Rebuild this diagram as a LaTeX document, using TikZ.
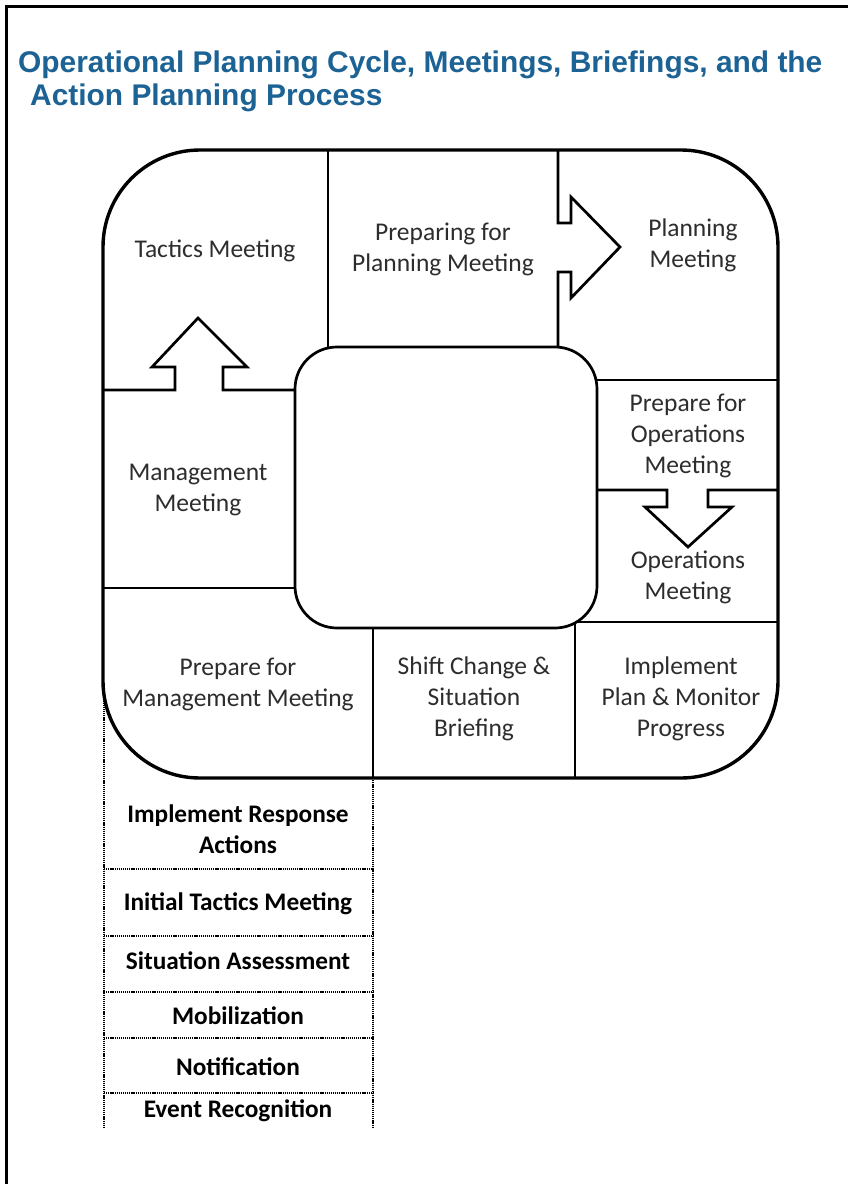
\documentclass[tikz,border=0pt]{standalone}
\usepackage{fontspec}
\setmainfont{Carlito}
\newfontfamily\titlefont{Liberation Sans}
\definecolor{titleblue}{RGB}{28,98,148}
\definecolor{txtgray}{RGB}{45,45,45}
\begin{document}
\begin{tikzpicture}[x=1pt,y=-1pt,
  frameline/.style={line width=3pt},
  outerline/.style={line width=3.4pt},
  divline/.style={line width=2.7pt, line join=miter},
  dotline/.style={line width=2pt, dash pattern=on 1.2pt off 0.9pt},
  cyc/.style={align=center, inner sep=0pt, text=txtgray, font=\fontsize{25.5}{31}\selectfont},
  stk/.style={align=center, inner sep=0pt, text=black, font=\bfseries\fontsize{25.3}{31}\selectfont},
  ttl/.style={anchor=base west, inner sep=0pt, text=titleblue, font=\titlefont\bfseries\fontsize{29.9}{33}\selectfont}]
\useasboundingbox (0,0) rectangle (848,1184);
\fill[white] (0,0) rectangle (848,1184);
% page frame
\draw[frameline] (6,1184) -- (6,6) -- (848,6);
% title
\node[ttl] (t1) at (18,72) {Operational Planning Cycle, Meetings, Briefings, and the};
\node[ttl] (t2) at (30,105) {Action Planning Process};
% dotted stack
\draw[dotline] (104,690) -- (104,1128);
\draw[dotline] (373,778) -- (373,1128);
\foreach \yy in {869,936,992,1038,1093} \draw[dotline] (104,\yy) -- (373,\yy);
% outer rounded shape
\draw[outerline, fill=white, rounded corners=97pt] (103,150) rectangle (778,778);
% dividers
\draw[divline] (328,150) -- (328,350);
\draw[divline] (103,390) -- (175,390) -- (175,367) -- (152,367) -- (198,318) -- (247,367) -- (223,367) -- (223,390) -- (297,390);
\draw[divline] (558,150) -- (558,223) -- (571,223) -- (571,197) -- (620,247) -- (571,298) -- (571,272) -- (558,272) -- (558,350);
\draw[divline] (103,588) -- (297,588);
\draw[divline] (595,380) -- (778,380);
\draw[divline] (595,490) -- (667,490) -- (667,507) -- (645,507) -- (688,547) -- (732,507) -- (708,507) -- (708,490) -- (778,490);
\draw[divline] (575,622) -- (778,622);
\draw[divline] (373,626) -- (373,778);
\draw[divline] (575,620) -- (575,778);
% inner rounded shape
\draw[divline, fill=white, rounded corners=42pt] (295,347) rectangle (597,628);
% cycle texts
\node[cyc] (tac) at (215,251) {Tactics Meeting};
\node[cyc] (ppm) at (443,249) {Preparing for\\Planning Meeting};
\node[cyc] (pm) at (693,245) {Planning\\Meeting};
\node[cyc] (mm) at (198,490) {Management\\Meeting};
\node[cyc] (pom) at (688,436) {Prepare for\\Operations\\Meeting};
\node[cyc] (om) at (688,577) {Operations\\Meeting};
\node[cyc] (pmm) at (238,684) {Prepare for\\Management Meeting};
\node[cyc] (scb) at (474,699) {Shift Change \&\\Situation\\Briefing};
\node[cyc] (ipm) at (681,699) {Implement\\Plan \& Monitor\\Progress};
% stack texts
\node[stk] (ira) at (238,829) {Implement Response\\Actions};
\node[stk] (itm) at (238,904) {Initial Tactics Meeting};
\node[stk] (sa) at (238,961) {Situation Assessment};
\node[stk] (mob) at (238,1016) {Mobilization};
\node[stk] (noti) at (238,1067) {Notification};
\node[stk] (er) at (238,1111) {Event Recognition};
\end{tikzpicture}
\end{document}
